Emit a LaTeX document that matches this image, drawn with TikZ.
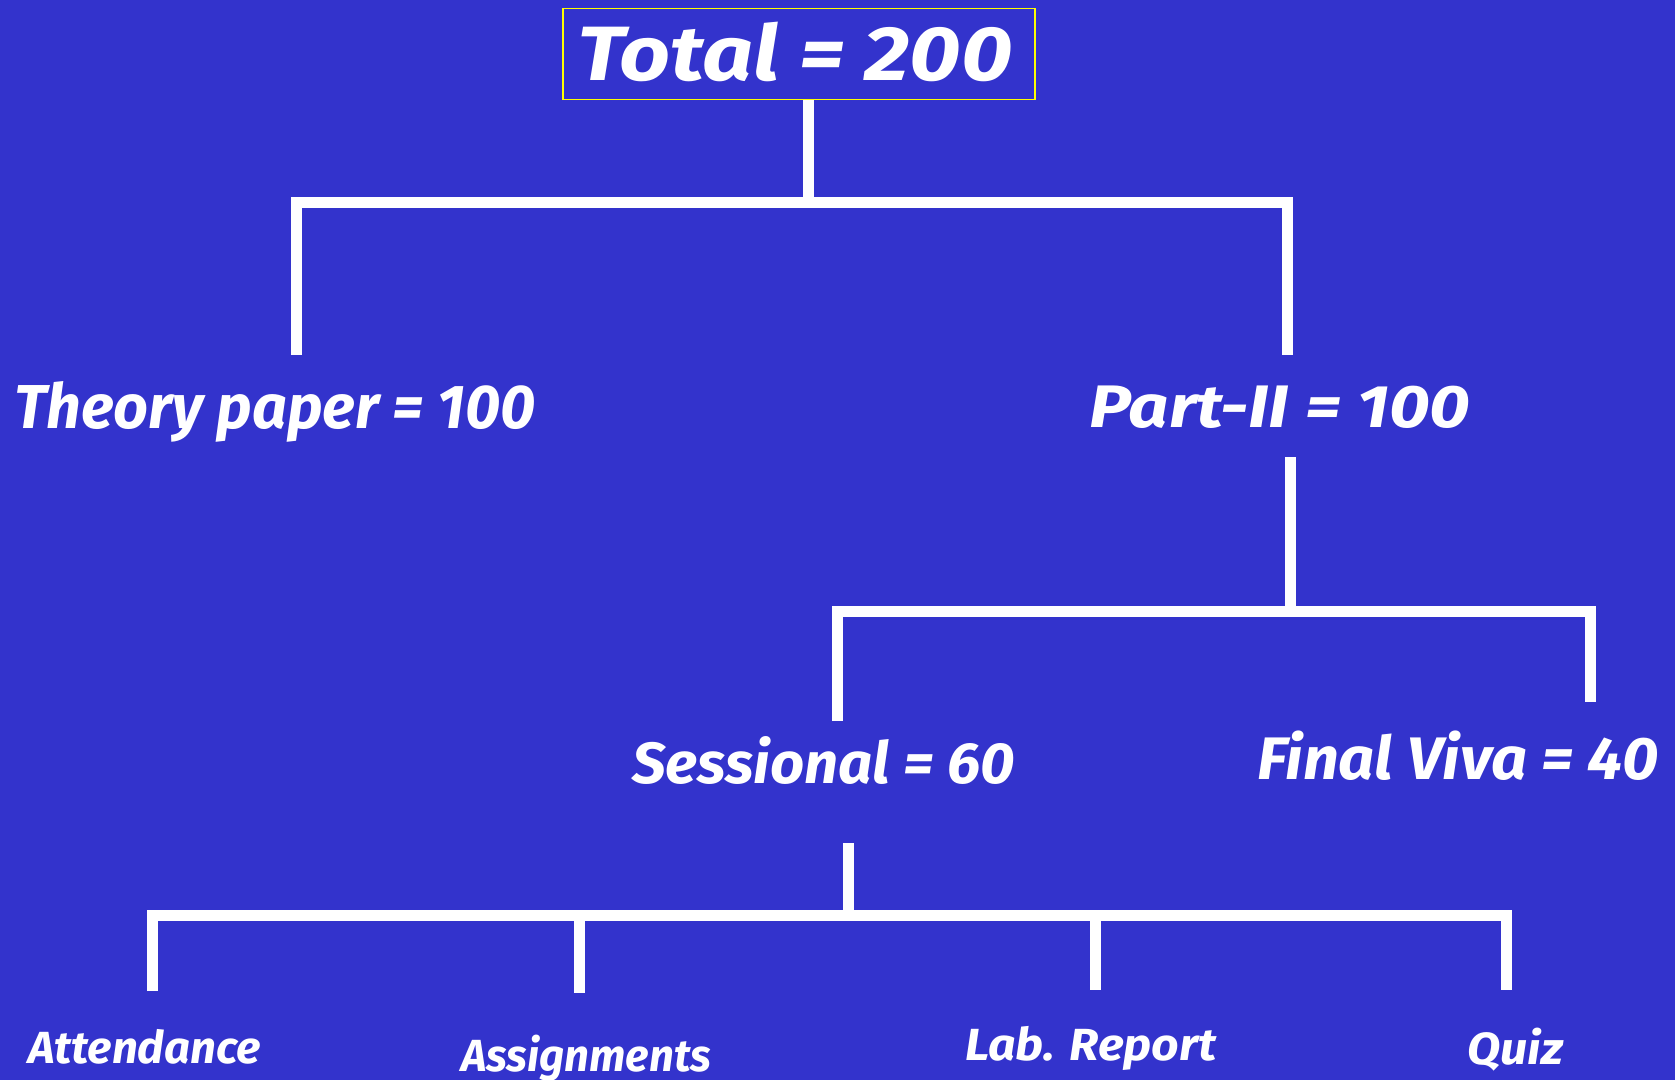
\documentclass[tikz,border=0pt]{standalone}
\usepackage{graphicx}
\usepackage{fontspec}
\setmainfont{Fira Sans}
\definecolor{bg}{RGB}{51,51,204}
\definecolor{boxy}{RGB}{255,255,0}
\newcommand{\hs}[2]{\scalebox{#1}[1]{#2}}
\begin{document}
\begin{tikzpicture}[x=1pt,y=-1pt,
  bar/.style={draw=white,line width=11pt,line join=miter},
  lbl/.style={text=white,anchor=base west,inner sep=0pt,font=\bfseries\itshape},
  topbox/.style={draw=boxy,line width=1.8pt,minimum width=472pt,minimum height=91pt,inner sep=0pt}]
\fill[bg] (0,0) rectangle (1675,1080);
\useasboundingbox (0,0) rectangle (1675,1080);
% box and labels
\node[topbox] (totalbox) at (799,54) {};
\node[lbl,font=\fontsize{77}{80}\selectfont\bfseries\itshape] (total) at (577,80) {\hs{1.157}{Total = 200}};
\node[lbl,font=\fontsize{62}{64}\selectfont\bfseries\itshape] (theory) at (14,428) {\hs{0.984}{Theory paper = 100}};
\node[lbl,font=\fontsize{60}{62}\selectfont\bfseries\itshape] (part) at (1089,427) {\hs{1.175}{Part-II = 100}};
\node[lbl,font=\fontsize{58}{60}\selectfont\bfseries\itshape] (sess) at (632,783) {\hs{1.03}{Sessional = 60}};
\node[lbl,font=\fontsize{60}{62}\selectfont\bfseries\itshape] (viva) at (1257,779) {\hs{1.05}{Final Viva = 40}};
\node[lbl,font=\fontsize{45}{47}\selectfont\bfseries\itshape] (att) at (28,1063) {\hs{1.01}{Attendance}};
\node[lbl,font=\fontsize{45}{47}\selectfont\bfseries\itshape] (asg) at (461,1071) {\hs{0.97}{Assignments}};
\node[lbl,font=\fontsize{45}{47}\selectfont\bfseries\itshape] (lab) at (965,1060) {\hs{1.07}{Lab. Report}};
\node[lbl,font=\fontsize{45}{47}\selectfont\bfseries\itshape] (quiz) at (1467,1064) {\hs{1.08}{Quiz}};
% connector end points
\coordinate (t1) at (808,202);
\coordinate (theoryTop) at (296,355);
\coordinate (partTop) at (1287,355);
\coordinate (partBot) at (1290,457);
\coordinate (p1) at (1290,611);
\coordinate (sessTop) at (837,721);
\coordinate (vivaTop) at (1590,702);
\coordinate (sessBot) at (848,843);
\coordinate (s1) at (848,915);
\coordinate (attTop) at (152,991);
\coordinate (asgTop) at (579,993);
\coordinate (labTop) at (1095,990);
\coordinate (quizTop) at (1506,990);
% level 1
\draw[bar] (totalbox.south -| t1) -- (t1);
\draw[bar] (theoryTop) -- (theoryTop |- t1) -- (partTop |- t1) -- (partTop);
% level 2
\draw[bar] (partBot) -- (p1);
\draw[bar] (sessTop) -- (sessTop |- p1) -- (vivaTop |- p1) -- (vivaTop);
% level 3
\draw[bar] (sessBot) -- (s1);
\draw[bar] (attTop) -- (attTop |- s1) -- (quizTop |- s1) -- (quizTop);
\draw[bar] (asgTop |- s1) -- (asgTop);
\draw[bar] (labTop |- s1) -- (labTop);
\end{tikzpicture}
\end{document}
